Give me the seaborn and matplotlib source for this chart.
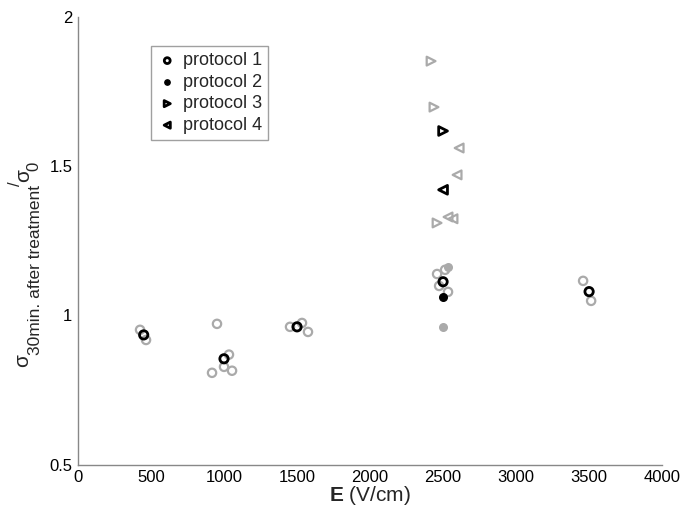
import matplotlib
matplotlib.use("Agg")
import matplotlib.pyplot as plt
import numpy as np
import pandas as pd
import seaborn as sns

# protocol means (black) and single measurements (gray)
p1_E = [450, 1000, 1500, 2500, 3500]
p1_y = [0.935, 0.855, 0.962, 1.113, 1.080]
p1_gray_E = [425, 466, 952, 1034, 1000, 1055, 918, 1452, 1534, 1575,
             2459, 2514, 2473, 2534, 3459, 3514]
p1_gray_y = [0.952, 0.918, 0.972, 0.869, 0.828, 0.815, 0.808, 0.962, 0.975, 0.945,
             1.139, 1.153, 1.099, 1.079, 1.116, 1.049]

p2_E = [2500]
p2_y = [1.062]
p2_gray_E = [2500, 2534]
p2_gray_y = [0.962, 1.163]

p3_E = [2500]
p3_y = [1.618]
p3_gray_E = [2418, 2438, 2459]
p3_gray_y = [1.852, 1.698, 1.310]

p4_E = [2500]
p4_y = [1.421]
p4_gray_E = [2610, 2596, 2534, 2568]
p4_gray_y = [1.561, 1.471, 1.330, 1.324]

x_ticks = [0, 500, 1000, 1500, 2000, 2500, 3000, 3500, 4000]
y_ticks = [0.5, 1, 1.5, 2]
y_tick_labels = ["0.5", "1", "1.5", "2"]

sns.set_style("white")
plt.rcParams['font.family'] = ['Liberation Sans', 'DejaVu Sans']
plt.rcParams['mathtext.fontset'] = 'custom'
plt.rcParams['mathtext.rm'] = 'Liberation Sans'
plt.rcParams['mathtext.it'] = 'Liberation Sans:italic'
plt.rcParams['mathtext.bf'] = 'Liberation Sans:bold'

W, H = 684, 513
fig = plt.figure(figsize=(W / 100, H / 100), dpi=100)
ax = fig.add_axes([0.114, 0.094, 0.854, 0.873])

GRAY = '#aaaaaa'

def pts(E, y):
    return pd.DataFrame({"E": E, "y": y})

# gray single measurements
sns.scatterplot(data=pts(p1_gray_E, p1_gray_y), x="E", y="y", marker='o', s=36,
                fc='none', ec=GRAY, linewidth=1.6, ax=ax, zorder=2)
sns.scatterplot(data=pts(p2_gray_E, p2_gray_y), x="E", y="y", marker='o', s=30,
                fc=GRAY, ec=GRAY, linewidth=1.0, ax=ax, zorder=2)
sns.scatterplot(data=pts(p3_gray_E, p3_gray_y), x="E", y="y", marker='>', s=40,
                fc='none', ec=GRAY, linewidth=1.6, ax=ax, zorder=2)
sns.scatterplot(data=pts(p4_gray_E, p4_gray_y), x="E", y="y", marker='<', s=40,
                fc='none', ec=GRAY, linewidth=1.6, ax=ax, zorder=2)

# black protocol values
sns.scatterplot(data=pts(p1_E, p1_y), x="E", y="y", marker='o', s=36,
                fc='none', ec='black', linewidth=2.0, ax=ax, zorder=3, label='protocol 1')
sns.scatterplot(data=pts(p2_E, p2_y), x="E", y="y", marker='o', s=30,
                fc='black', ec='black', linewidth=1.0, ax=ax, zorder=3, label='protocol 2')
sns.scatterplot(data=pts(p3_E, p3_y), x="E", y="y", marker='>', s=40,
                fc='none', ec='black', linewidth=2.0, ax=ax, zorder=3, label='protocol 3')
sns.scatterplot(data=pts(p4_E, p4_y), x="E", y="y", marker='<', s=40,
                fc='none', ec='black', linewidth=2.0, ax=ax, zorder=3, label='protocol 4')

ax.set_xlim(0, 4000)
ax.set_ylim(0.5, 2)
ax.set_xticks(x_ticks)
ax.set_xticklabels([str(t) for t in x_ticks])
ax.set_yticks(y_ticks)
ax.set_yticklabels(y_tick_labels)
ax.tick_params(direction='in', length=4, width=1, colors='#888888',
               labelcolor='black', labelsize=12, pad=4)

for side in ['top', 'right']:
    ax.spines[side].set_visible(False)
for side in ['left', 'bottom']:
    ax.spines[side].set_color('#888888')
    ax.spines[side].set_linewidth(1)

ax.set_xlabel(r'$\mathbf{E}$ (V/cm)', fontsize=15, labelpad=-1)
ax.set_ylabel('')

# y label built from rotated pieces so the subscript stays large
renderer = fig.canvas.get_renderer()
label_parts = [('σ', 15, 23), ('30min. after treatment', 12.5, 36),
               ('/', 12, 15), ('σ', 15, 24), ('0', 12, 34)]
y_pos = H - 367
for s, size, xc in label_parts:
    t = fig.text(xc / W, y_pos / H, s, rotation=90, ha='center', va='bottom',
                 fontsize=size)
    y_pos += t.get_window_extent(renderer).height - 1

leg = ax.legend(loc='upper left', bbox_to_anchor=(0.125, 0.935), fontsize=13,
                frameon=True, fancybox=False, edgecolor='#888888',
                handletextpad=0.3, borderpad=0.35, labelspacing=0.25,
                handlelength=1.1, markerscale=0.7, borderaxespad=0)
leg.get_frame().set_linewidth(1)

fig.savefig("out.png", dpi=100)
